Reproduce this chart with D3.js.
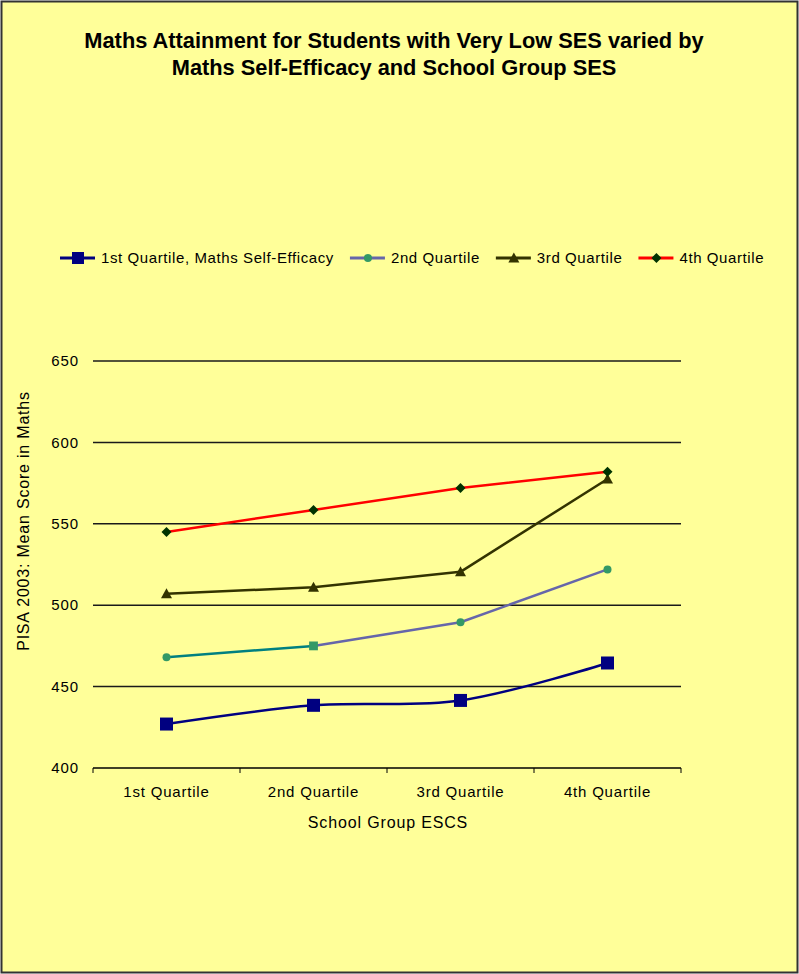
<!DOCTYPE html>
<html>
<head>
<meta charset="utf-8">
<script src="https://cdn.jsdelivr.net/npm/d3@7"></script>
<style>
  html, body { margin: 0; padding: 0; background: #fff; }
  svg text { font-family: "Liberation Sans", Arial, sans-serif; fill: #000; }
</style>
</head>
<body>
<svg id="chart" width="799" height="974"></svg>
<script>
// ---- data ----
const categories = ["1st Quartile", "2nd Quartile", "3rd Quartile", "4th Quartile"];
const seriesNames = ["1st Quartile, Maths Self-Efficacy", "2nd Quartile", "3rd Quartile", "4th Quartile"];
const q1Values = [427, 438.5, 441.5, 464.5];
const q2Values = [468, 475, 489.5, 522];
const q3Values = [507, 511, 520.5, 577.5];
const q4Values = [545, 558.5, 572, 582];
const yTicks = [400, 450, 500, 550, 600, 650];
const titleLines = ["Maths Attainment for Students with Very Low SES varied by", "Maths Self-Efficacy and School Group SES"];
const xAxisTitle = "School Group ESCS";
const yAxisTitle = "PISA 2003: Mean Score in Maths";

// ---- styles ----
const styles = [
  { values: q1Values, color: "#000080", segColors: null, marker: "square", mColor: "#000080", mSize: 13, curve: d3.curveCatmullRom.alpha(0.5), width: 2.5 },
  { values: q2Values, color: "#6666AA", segColors: ["#008080", "#6666AA", "#6666AA"], marker: "circle", mColor: "#339966", mSize: 8, curve: d3.curveLinear, width: 2.5, special: { 1: "square" } },
  { values: q3Values, color: "#333300", segColors: null, marker: "triangle", mColor: "#333300", mSize: 11, curve: d3.curveLinear, width: 2.5 },
  { values: q4Values, color: "#FF0000", segColors: null, marker: "diamond", mColor: "#003300", mSize: 10, curve: d3.curveLinear, width: 2.5 }
];

const svg = d3.select("#chart");
const W = 799, H = 974;
const plot = { left: 93, right: 681, top: 361, bottom: 768 };

svg.append("rect").attr("x", 1.5).attr("y", 1.5).attr("width", W - 3).attr("height", H - 3)
  .attr("fill", "#FFFF99").attr("stroke", "#333333").attr("stroke-width", 2);

// title
const title = svg.append("text").attr("text-anchor", "middle")
  .style("font-weight", "bold").style("font-size", "21.8px");
titleLines.forEach((t, i) => {
  title.append("tspan").attr("x", 394).attr("y", 48 + i * 26.5).text(t);
});

const x = d3.scaleBand().domain(categories).range([plot.left, plot.right]);
const y = d3.scaleLinear().domain([400, 650]).range([plot.bottom, plot.top]);

// gridlines
svg.append("g").selectAll("line").data(yTicks.filter(d => d > 400)).join("line")
  .attr("x1", plot.left).attr("x2", plot.right)
  .attr("y1", d => y(d)).attr("y2", d => y(d))
  .attr("stroke", "#1a1a1a").attr("stroke-width", 1.5);

// y tick labels
svg.append("g").selectAll("text").data(yTicks).join("text")
  .attr("x", 79).attr("y", d => y(d)).attr("dy", "0.35em")
  .attr("text-anchor", "end").style("font-size", "15px").style("letter-spacing", "0.9px")
  .text(d => d);

// x axis
const xAxis = d3.axisBottom(x).tickSize(0).tickPadding(0);
const gx = svg.append("g").attr("transform", `translate(0,${plot.bottom})`).call(xAxis);
gx.select(".domain").remove();
gx.selectAll("text").remove();
gx.append("line").attr("x1", plot.left).attr("x2", plot.right).attr("y1", 0).attr("y2", 0)
  .attr("stroke", "#000").attr("stroke-width", 1.5);
const edges = categories.map(c => x(c)).concat([x(categories[categories.length - 1]) + x.bandwidth()]);
gx.selectAll("line.edge").data(edges).join("line").attr("class", "edge")
  .attr("x1", d => d).attr("x2", d => d).attr("y1", 0).attr("y2", 5)
  .attr("stroke", "#000").attr("stroke-width", 1);
gx.selectAll("text.cat").data(categories).join("text").attr("class", "cat")
  .attr("x", d => x(d) + x.bandwidth() / 2).attr("y", 29)
  .attr("text-anchor", "middle").style("font-size", "15px").style("letter-spacing", "0.8px")
  .text(d => d);

// axis titles
svg.append("text").attr("x", (plot.left + plot.right) / 2 + 1).attr("y", 828)
  .attr("text-anchor", "middle").style("font-size", "16px").style("letter-spacing", "0.85px").text(xAxisTitle);
svg.append("text").attr("transform", `translate(29,521) rotate(-90)`)
  .attr("text-anchor", "middle").style("font-size", "16px").style("letter-spacing", "0.8px").text(yAxisTitle);

// markers
function markerPath(type, size) {
  const s = size / 2;
  if (type === "square") return `M${-s},${-s}H${s}V${s}H${-s}Z`;
  if (type === "diamond") return `M0,${-s}L${s},0L0,${s}L${-s},0Z`;
  if (type === "triangle") return `M0,${-s}L${s},${s * 0.8}L${-s},${s * 0.8}Z`;
  return d3.symbol(d3.symbolCircle, Math.PI * s * s)();
}

const cx = d => x(d) + x.bandwidth() / 2;

styles.forEach(st => {
  const pts = categories.map((c, i) => [cx(c), y(st.values[i])]);
  const g = svg.append("g");
  if (st.segColors) {
    for (let i = 0; i < pts.length - 1; i++) {
      g.append("path").attr("d", d3.line()([pts[i], pts[i + 1]]))
        .attr("fill", "none").attr("stroke", st.segColors[i]).attr("stroke-width", st.width);
    }
  } else {
    g.append("path").attr("d", d3.line().curve(st.curve)(pts))
      .attr("fill", "none").attr("stroke", st.color).attr("stroke-width", st.width)
      .attr("stroke-linejoin", "round");
  }
  g.selectAll("path.m").data(pts).join("path").attr("class", "m")
    .attr("transform", d => `translate(${d[0]},${d[1]})`)
    .attr("d", (d, i) => {
      const t = st.special && st.special[i] ? st.special[i] : st.marker;
      return markerPath(t, t === "square" && st.marker !== "square" ? st.mSize * 1.1 : st.mSize);
    })
    .attr("fill", st.mColor);
});

// legend
const legY = 258;
let lx = 60;
styles.forEach((st, i) => {
  const g = svg.append("g").attr("transform", `translate(${lx},${legY})`);
  g.append("line").attr("x1", 0).attr("x2", 35).attr("y1", 0).attr("y2", 0)
    .attr("stroke", st.color).attr("stroke-width", 3);
  g.append("path").attr("transform", "translate(18,0)")
    .attr("d", markerPath(st.marker, st.marker === "square" ? 12 : st.mSize)).attr("fill", st.mColor);
  const t = g.append("text").attr("x", 41).attr("y", 0).attr("dy", "0.35em")
    .style("font-size", "15px").style("letter-spacing", "0.6px").text(seriesNames[i]);
  lx += 41 + t.node().getComputedTextLength() + 16;
});
</script>
</body>
</html>
